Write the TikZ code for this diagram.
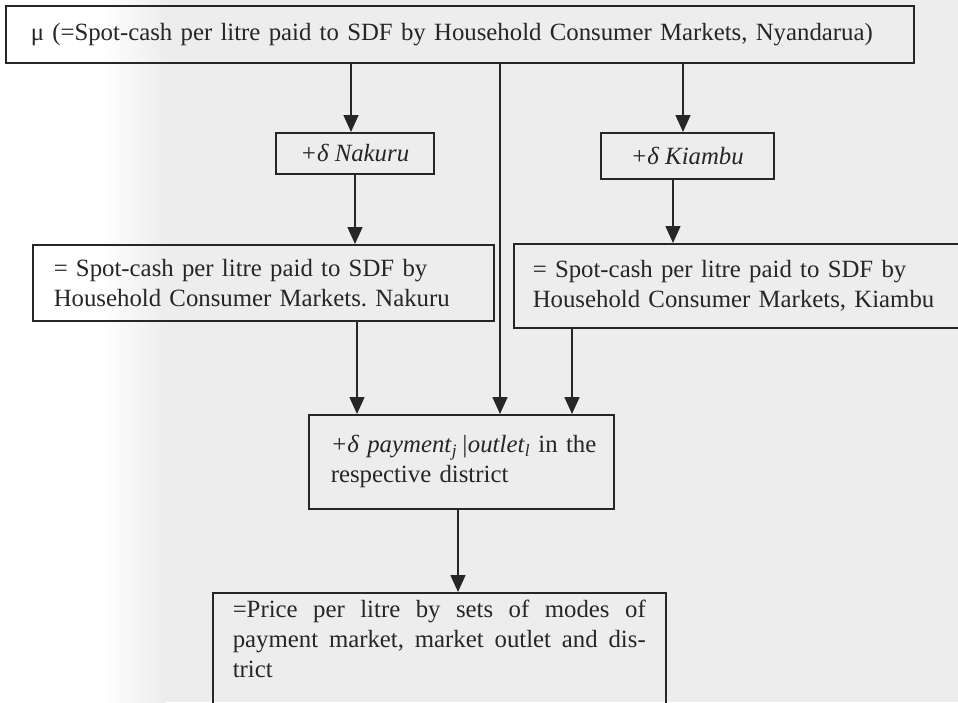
\documentclass[tikz,border=0pt]{standalone}
\usepackage{fontspec}
\setmainfont{Liberation Serif}
\usetikzlibrary{arrows.meta}
\setlength{\parindent}{0pt}
\frenchspacing
\definecolor{ink}{RGB}{38,38,38}
\definecolor{paper}{RGB}{237,237,237}
\begin{document}
\begin{tikzpicture}[x=1pt,y=-1pt,
  box/.style={draw=ink, line width=1.5pt, text=ink, inner ysep=0pt,
    anchor=north west, font=\fontsize{24.8pt}{30pt}\selectfont},
  arr/.style={draw=ink, line width=1.6pt, -{Triangle[width=15pt,length=17pt]}},
]
% page and its shading
\clip (0,0) rectangle (958,702);
\fill[paper] (0,0) rectangle (958,702);
\shade[left color=white, right color=paper] (100,0) rectangle (165,702);
\fill[white] (0,0) rectangle (100,702);

% boxes
\node[box, minimum height=57pt, inner xsep=25pt, text width=858pt, align=left]
  (mu) at (5,5) {μ (=Spot-cash per litre paid to SDF by Household Consumer Markets, Nyandarua)};
\node[box, minimum width=158pt, minimum height=41pt] (nak) at (275,132) {\itshape +δ Nakuru};
\node[box, minimum width=173pt, minimum height=46pt] (kia) at (600,132) {\itshape +δ Kiambu};
\node[box, minimum height=76pt, inner xsep=21pt, text width=419pt, align=left]
  (nakb) at (32,244) {= Spot-cash per litre paid to SDF by\\Household Consumer Markets. Nakuru};
\node[box, minimum height=84pt, inner xsep=19pt, text width=460pt, align=left]
  (kiab) at (513,243) {= Spot-cash per litre paid to SDF by\\Household Consumer Markets, Kiambu};
\node[box, minimum height=94pt, inner xsep=11pt, text width=283pt, align=left]
  (pay) at (308,414) {\hspace*{11pt}\textit{+δ payment}\textsubscript{\textit{j}}\hspace{4pt}\textit{|outlet}\textsubscript{\textit{l}} in the\\
  \hspace*{11pt}respective district};
\node[box, inner xsep=20pt, inner ysep=7pt, text width=413pt, align=justify]
  (price) at (212,592) {=Price per litre by sets of modes of\linebreak
  payment market, market outlet and dis-\linebreak trict\par\vspace*{60pt}};

% arrow columns
\coordinate (c1) at (351,0);
\coordinate (c2) at (355,0);
\coordinate (c3) at (500,0);
\coordinate (c4) at (683,0);
\coordinate (c5) at (673,0);
\coordinate (c6) at (357,0);
\coordinate (c7) at (572,0);
\coordinate (c8) at (458,0);

% connectors
\draw[arr] (c1 |- mu.south) -- (c1 |- nak.north);
\draw[arr] (c4 |- mu.south) -- (c4 |- kia.north);
\draw[arr] (c3 |- mu.south) -- (c3 |- pay.north);
\draw[arr] (c2 |- nak.south) -- (c2 |- nakb.north);
\draw[arr] (c5 |- kia.south) -- (c5 |- kiab.north);
\draw[arr] (c6 |- nakb.south) -- (c6 |- pay.north);
\draw[arr] (c7 |- kiab.south) -- (c7 |- pay.north);
\draw[arr] (c8 |- pay.south) -- (c8 |- price.north);
\end{tikzpicture}
\end{document}
